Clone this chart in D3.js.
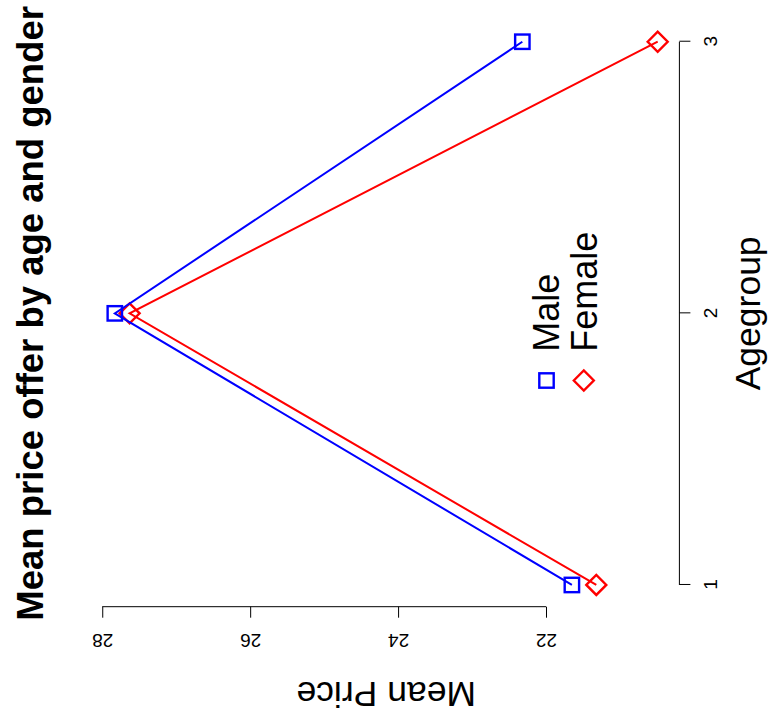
<!DOCTYPE html>
<html>
<head>
<meta charset="utf-8">
<script src="https://cdn.jsdelivr.net/npm/d3@7"></script>
<style>
  body { margin: 0; background: #fff; }
  svg { display: block; font-family: "Liberation Sans", Arial, sans-serif; }
</style>
</head>
<body>
<svg id="chart"></svg>
<script>
const agegroups = [1, 2, 3];
const malePrice = [21.65, 27.83, 22.32];
const femalePrice = [21.32, 27.63, 20.49];
const priceTicks = [22, 24, 26, 28];
const legendLabels = ["Male", "Female"];

// the plot is drawn as an upright R-style chart, then turned a quarter turn
const W = 721, H = 770;
const margin = { top: 93.1, right: 20, bottom: 90.6, left: 114.3 };

const svg = d3.select("#chart")
    .attr("width", H)
    .attr("height", W);

const g = svg.append("g")
    .attr("transform", `translate(0,${W}) rotate(-90)`);

// R pads the data range by 4% on each side
const pad = ext => {
    const d = (ext[1] - ext[0]) * 0.04;
    return [ext[0] - d, ext[1] + d];
};

const x = d3.scaleLinear()
    .domain(pad(d3.extent(agegroups)))
    .range([margin.left, W - margin.right]);

const y = d3.scaleLinear()
    .domain(pad(d3.extent(malePrice.concat(femalePrice))))
    .range([H - margin.bottom, margin.top]);

// x axis
const xAxis = g.append("g")
    .attr("transform", `translate(0,${H - margin.bottom})`)
    .attr("font-size", 19)
    .call(d3.axisBottom(x).tickValues(agegroups).tickSize(11).tickSizeOuter(0).tickFormat(d3.format("d")));
xAxis.attr("font-size", 19).attr("font-family", null);
xAxis.select(".domain").remove();
xAxis.append("line")
    .attr("x1", x(agegroups[0])).attr("x2", x(agegroups[agegroups.length - 1]))
    .attr("stroke", "#000");
xAxis.selectAll(".tick text")
    .attr("y", 38)
    .attr("dy", null)
    .attr("fill", "#000");

// y axis
const yAxis = g.append("g")
    .attr("transform", `translate(${margin.left},0)`)
    .call(d3.axisLeft(y).tickValues(priceTicks).tickSize(11).tickSizeOuter(0));
yAxis.attr("font-size", 19).attr("font-family", null);
yAxis.select(".domain").remove();
yAxis.append("line")
    .attr("y1", y(priceTicks[0])).attr("y2", y(priceTicks[priceTicks.length - 1]))
    .attr("stroke", "#000");
yAxis.selectAll(".tick text")
    .attr("x", null)
    .attr("dy", null)
    .attr("transform", "translate(-27,0) rotate(-90)")
    .attr("text-anchor", "middle")
    .attr("fill", "#000");

const midX = (margin.left + W - margin.right) / 2;
const midY = (margin.top + H - margin.bottom) / 2;

g.append("text")
    .attr("x", midX).attr("y", 43)
    .attr("text-anchor", "middle")
    .style("font-size", "36.5px")
    .style("font-weight", "bold")
    .text("Mean price offer by age and gender");

g.append("text")
    .attr("x", midX).attr("y", 760)
    .attr("text-anchor", "middle")
    .style("font-size", "35.5px")
    .text("Agegroup");

g.append("text")
    .attr("transform", `translate(39.3,${midY}) rotate(-90)`)
    .attr("text-anchor", "middle")
    .style("font-size", "35.5px")
    .text("Mean Price");

const line = d3.line()
    .x((d, i) => x(agegroups[i]))
    .y(d => y(d));

const square = (sel, color) => sel.append("rect")
    .attr("x", -7.2).attr("y", -7.2)
    .attr("width", 14.4).attr("height", 14.4)
    .attr("fill", "none").attr("stroke", color).attr("stroke-width", 2.4);

const diamond = (sel, color) => sel.append("path")
    .attr("d", "M0,-10L10,0L0,10L-10,0Z")
    .attr("fill", "none").attr("stroke", color).attr("stroke-width", 2.4);

const series = [
    { values: femalePrice, color: "#ff0000", marker: diamond },
    { values: malePrice, color: "#0000ff", marker: square }
];

series.forEach(s => {
    g.append("path")
        .datum(s.values)
        .attr("d", line)
        .attr("fill", "none")
        .attr("stroke", s.color)
        .attr("stroke-width", 2);

    g.selectAll(null)
        .data(s.values)
        .enter()
        .append("g")
        .attr("transform", (d, i) => `translate(${x(agegroups[i])},${y(d)})`)
        .each(function() { s.marker(d3.select(this), s.color); });
});

// legend, no box
const legend = g.append("g");
const legendRows = [
    { label: legendLabels[0], color: "#0000ff", marker: square, y: 546.5 },
    { label: legendLabels[1], color: "#ff0000", marker: diamond, y: 583.8 }
];
legendRows.forEach(r => {
    r.marker(legend.append("g").attr("transform", `translate(340.5,${r.y})`), r.color);
    legend.append("text")
        .attr("x", 369.3).attr("y", r.y)
        .attr("dy", "0.36em")
        .style("font-size", "36px")
        .text(r.label);
});
</script>
</body>
</html>
